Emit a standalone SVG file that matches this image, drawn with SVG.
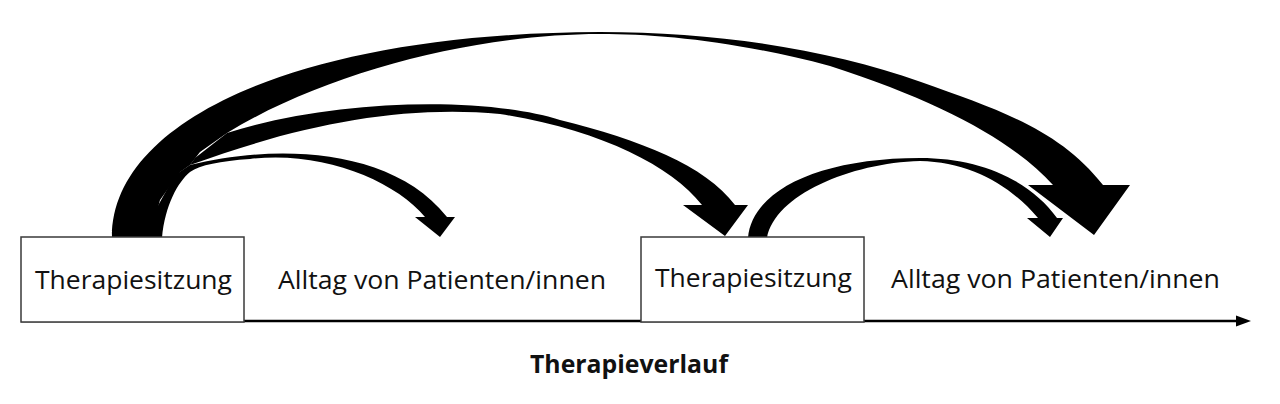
<svg xmlns="http://www.w3.org/2000/svg" width="1280" height="404" viewBox="0 0 1280 404">
<style>
.arrow{fill:#000;stroke:none}
.box{fill:#fff;stroke:#3a3a3a;stroke-width:1.5}
.lbl{font-family:"Open Sans","Noto Sans","Liberation Sans",sans-serif;font-size:26px;fill:#111}
.ttl{font-family:"Open Sans","Noto Sans","Liberation Sans",sans-serif;font-size:25px;font-weight:bold;fill:#111}
.axis{stroke:#000;stroke-width:2.5;fill:none}
</style>
<rect width="1280" height="404" fill="#fff"/>
<g id="connectors">
<path id="arrow-session1-daily2" class="arrow" d="M112,238 L112,237 C112,120 300,33 600,32 C720,32 830,50 921,82 C1000,110 1060,130 1103,185 L1130,185 L1094,235 L1028,185 L1053,185 C1015,143 945,103 830,66 C735,41 660,34 600,34 C480,34 330,70 227,133 L200,152 L190,165 L180,172 L160,200 L150,238 Z"/>
<path id="arrow-session1-session2" class="arrow" d="M195,158 L227,133 C330,100 480,95 560,120 C640,140 705,165 735,205 L748,205 L725,236 L683,205 L702,205 C670,165 600,130 500,114 C400,105 300,125 190,165 Z"/>
<path id="arrow-session1-daily1" class="arrow" d="M175,175 L190,165 C270,145 390,145 447,217 L455,217 L440,237 L415,217 L425,217 C395,180 320,150 250,159 C220,161 200,165 190,172 C178,182 165,205 162,238 L140,238 Z"/>
<path id="arrow-session2-daily2" class="arrow" d="M748,238 C752,190 820,158 920,158 C980,158 1030,180 1057,218 L1063,218 L1050,237 L1027,218 L1038,218 C1010,185 970,162 920,161 C850,163 775,195 767,238 Z"/>
</g>
<g id="timeline">
<line class="axis" x1="21" y1="321" x2="1240" y2="321"/>
<polygon points="1236,315.5 1251,321 1236,326.5" fill="#000"/>
</g>
<g id="node-session1">
<rect class="box" x="21" y="237" width="223" height="85"/>
<text class="lbl" x="35" y="289" textLength="197" lengthAdjust="spacingAndGlyphs">Therapiesitzung</text>
</g>
<g id="node-daily1">
<text class="lbl" x="278" y="289" textLength="328" lengthAdjust="spacingAndGlyphs">Alltag von Patienten/innen</text>
</g>
<g id="node-session2">
<rect class="box" x="641" y="237" width="223" height="85"/>
<text class="lbl" x="655" y="287" textLength="197" lengthAdjust="spacingAndGlyphs">Therapiesitzung</text>
</g>
<g id="node-daily2">
<text class="lbl" x="891" y="288" textLength="329" lengthAdjust="spacingAndGlyphs">Alltag von Patienten/innen</text>
</g>
<g id="title">
<text class="ttl" x="530" y="373" textLength="198" lengthAdjust="spacingAndGlyphs">Therapieverlauf</text>
</g>
</svg>
